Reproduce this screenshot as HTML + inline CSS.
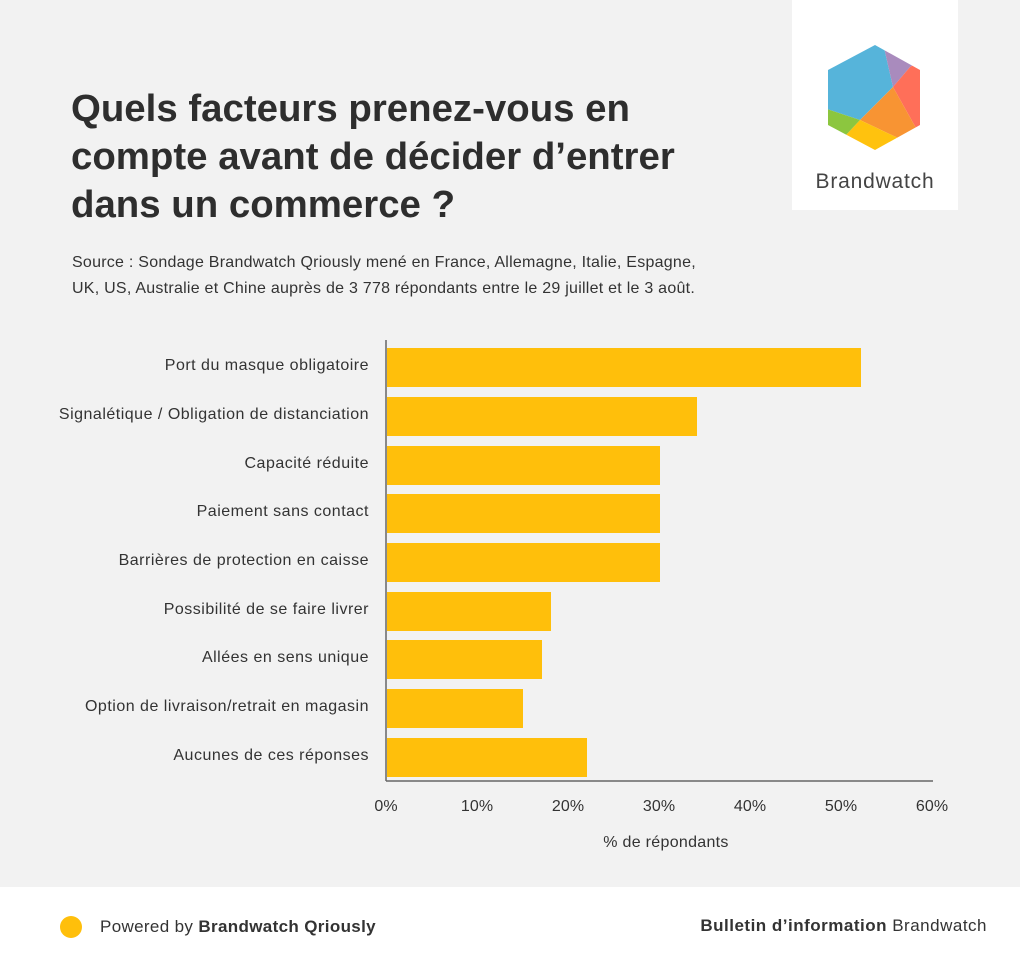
<!DOCTYPE html>
<html><head><meta charset="utf-8"><style>
body{margin:0;width:1020px;height:963px;background:#f2f2f2;font-family:"Liberation Sans",Arial,sans-serif;color:#333;position:relative;overflow:hidden}
.t{position:absolute;left:71px;top:85px;font-size:38.4px;font-weight:bold;line-height:48px;color:#2e2e2e;letter-spacing:0px}
.src{position:absolute;left:72px;top:250px;font-size:16px;line-height:26px;color:#333;letter-spacing:0.25px}
.lab{position:absolute;right:651px;font-size:16px;color:#333;white-space:nowrap;letter-spacing:0.5px}
.bar{position:absolute;left:387px;height:39px;background:#ffbf0b}
.tick{position:absolute;top:798px;font-size:16px;width:60px;text-align:center;margin-left:-30px;letter-spacing:0.1px}
.foot{position:absolute;left:0;top:887px;width:1020px;height:76px;background:#fff}
</style></head><body>
<div style="position:absolute;left:792px;top:0;width:166px;height:210px;background:#fff"></div>
<svg style="position:absolute;left:0;top:0" width="1020" height="963">
<defs><clipPath id="h"><polygon points="875,45 920,70 920,125 875,150 828,125 828,70"/></clipPath></defs>
<g clip-path="url(#h)">
<polygon points="800,30 880,30 893,87 860,120 800,100" fill="#56b4da"/>
<polygon points="880,30 930,30 930,55 910,67 893,87" fill="#a98bbd"/>
<polygon points="910,67 930,55 930,130 916,128 893,87" fill="#ff6f59"/>
<polygon points="893,87 916,128 898,138 860,120" fill="#f89433"/>
<polygon points="860,120 898,138 890,170 846,170 846,135" fill="#ffc20e"/>
<polygon points="800,100 860,120 846,135 846,170 800,170" fill="#8cc63f"/>
</g>
<text x="875" y="188" text-anchor="middle" font-family="Liberation Sans" font-size="21" letter-spacing="0.8" fill="#444">Brandwatch</text>
<line x1="386" y1="340" x2="386" y2="781" stroke="#666" stroke-width="1.5"/>
<line x1="386" y1="781" x2="933" y2="781" stroke="#666" stroke-width="1.5"/>
</svg>
<div class="t">Quels facteurs prenez-vous en<br>compte avant de décider d’entrer<br>dans un commerce ?</div>
<div class="src">Source : Sondage Brandwatch Qriously mené en France, Allemagne, Italie, Espagne,<br>UK, US, Australie et Chine auprès de 3 778 répondants entre le 29 juillet et le 3 août.</div>
<div class="bar" style="top:348px;width:474px"></div>
<div class="bar" style="top:397px;width:310px"></div>
<div class="bar" style="top:446px;width:273px"></div>
<div class="bar" style="top:494px;width:273px"></div>
<div class="bar" style="top:543px;width:273px"></div>
<div class="bar" style="top:592px;width:164px"></div>
<div class="bar" style="top:640px;width:155px"></div>
<div class="bar" style="top:689px;width:136px"></div>
<div class="bar" style="top:738px;width:200px"></div>
<div class="lab" style="top:357px">Port du masque obligatoire</div>
<div class="lab" style="top:406px">Signalétique / Obligation de distanciation</div>
<div class="lab" style="top:455px">Capacité réduite</div>
<div class="lab" style="top:503px">Paiement sans contact</div>
<div class="lab" style="top:552px">Barrières de protection en caisse</div>
<div class="lab" style="top:601px">Possibilité de se faire livrer</div>
<div class="lab" style="top:649px">Allées en sens unique</div>
<div class="lab" style="top:698px">Option de livraison/retrait en magasin</div>
<div class="lab" style="top:747px">Aucunes de ces réponses</div>
<div class="tick" style="left:386px">0%</div>
<div class="tick" style="left:477px">10%</div>
<div class="tick" style="left:568px">20%</div>
<div class="tick" style="left:659px">30%</div>
<div class="tick" style="left:750px">40%</div>
<div class="tick" style="left:841px">50%</div>
<div class="tick" style="left:932px">60%</div>
<div style="position:absolute;left:560px;width:212px;text-align:center;top:834px;font-size:16px;letter-spacing:0.3px">% de répondants</div>
<div class="foot">
<div style="position:absolute;left:60px;top:29px;width:22px;height:22px;border-radius:50%;background:#ffbf0b"></div>
<div style="position:absolute;left:100px;top:30px;font-size:17px;letter-spacing:0.35px">Powered by <b>Brandwatch Qriously</b></div>
<div style="position:absolute;right:33px;top:29px;font-size:17px;letter-spacing:0.5px"><b>Bulletin d’information</b> Brandwatch</div>
</div>
</body></html>
